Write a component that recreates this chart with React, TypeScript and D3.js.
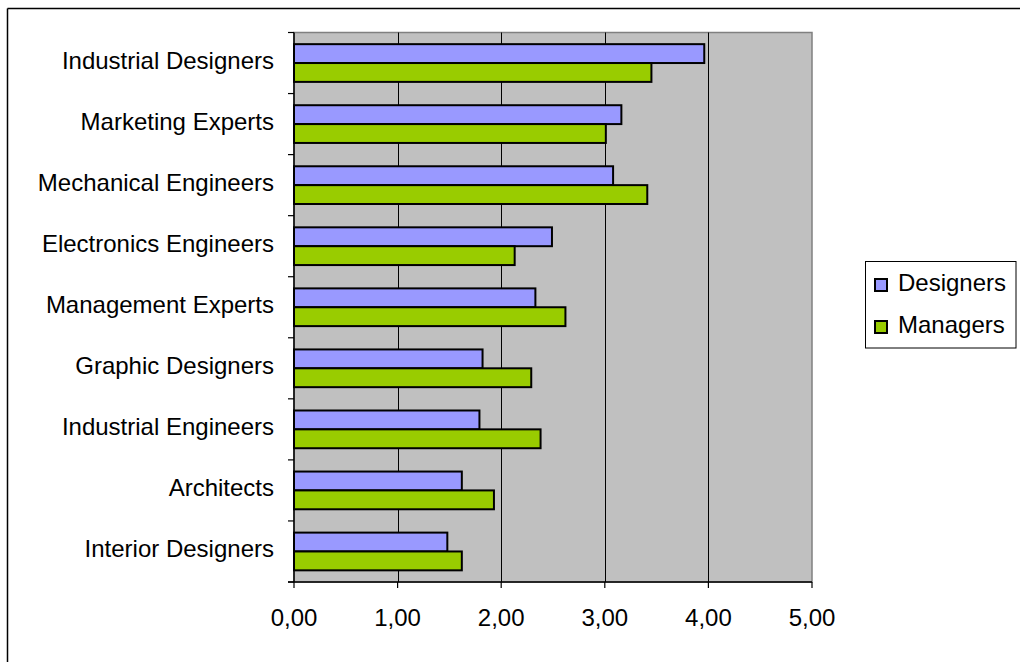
import React from "react";
import * as d3 from "d3";

// Mean ratings per profession, rated by designers and by managers
const categories = [
  "Industrial Designers",
  "Marketing Experts",
  "Mechanical Engineers",
  "Electronics Engineers",
  "Management Experts",
  "Graphic Designers",
  "Industrial Engineers",
  "Architects",
  "Interior Designers",
];
const designers = [3.96, 3.16, 3.08, 2.49, 2.33, 1.82, 1.79, 1.62, 1.48];
const managers = [3.45, 3.01, 3.41, 2.13, 2.62, 2.29, 2.38, 1.93, 1.62];
const seriesNames = ["Designers", "Managers"];
const seriesColors = ["#9999FF", "#99CC00"];
const xTicks = [0, 1, 2, 3, 4, 5];

const W = 1020;
const H = 662;
const plot = { left: 294, right: 812, top: 32.5, bottom: 582 };
const FONT = "'Liberation Sans', Arial, sans-serif";

export default function App() {
  const x = d3.scaleLinear().domain([0, 5]).range([plot.left, plot.right]);
  const y = d3
    .scaleBand<string>()
    .domain(categories)
    .range([plot.top, plot.bottom])
    .paddingInner(0.382)
    .paddingOuter(0.191);
  const inner = d3
    .scaleBand<string>()
    .domain(seriesNames)
    .range([0, y.bandwidth()]);
  const step = y.step();
  const fmt = (v: number) => v.toFixed(2).replace(".", ",");
  const series = [designers, managers];

  const boundaries = d3.range(categories.length + 1).map((i) => plot.top + i * step);

  return (
    <svg
      width={W}
      height={H}
      style={{ position: "absolute", left: 0, top: 0, background: "#fff" }}
      fontFamily={FONT}
    >
      {/* chart area frame */}
      <line x1={7.5} y1={8.5} x2={W + 2} y2={8.5} stroke="#000" strokeWidth={1.5} />
      <line x1={7.5} y1={8.5} x2={7.5} y2={H + 2} stroke="#000" strokeWidth={1.5} />

      {/* plot area */}
      <rect
        x={plot.left}
        y={plot.top}
        width={plot.right - plot.left}
        height={plot.bottom - plot.top}
        fill="#C0C0C0"
        stroke="#808080"
        strokeWidth={1.5}
      />

      {/* vertical gridlines */}
      {xTicks.slice(1, -1).map((t) => (
        <line
          key={`g${t}`}
          x1={Math.round(x(t)) + 0.5}
          x2={Math.round(x(t)) + 0.5}
          y1={plot.top}
          y2={plot.bottom}
          stroke="#000"
          strokeWidth={1}
        />
      ))}

      {/* bars */}
      {categories.map((c, i) => (
        <g key={c}>
          {series.map((vals, s) => (
            <rect
              key={seriesNames[s]}
              x={x(0)}
              y={(y(c) as number) + (inner(seriesNames[s]) as number)}
              width={x(vals[i]) - x(0)}
              height={inner.bandwidth()}
              fill={seriesColors[s]}
              stroke="#000"
              strokeWidth={2}
            />
          ))}
        </g>
      ))}

      {/* axes */}
      <line x1={plot.left} x2={plot.left} y1={plot.top} y2={plot.bottom} stroke="#000" strokeWidth={1.5} />
      <line x1={plot.left - 6} x2={plot.right} y1={plot.bottom} y2={plot.bottom} stroke="#000" strokeWidth={1.5} />
      {boundaries.map((b, i) => (
        <line key={`yt${i}`} x1={plot.left - 6} x2={plot.left} y1={b} y2={b} stroke="#000" strokeWidth={1.2} />
      ))}
      {xTicks.map((t) => (
        <line key={`xt${t}`} x1={x(t)} x2={x(t)} y1={plot.bottom} y2={plot.bottom + 6} stroke="#000" strokeWidth={1.2} />
      ))}

      {/* category labels */}
      {categories.map((c) => (
        <text
          key={`l${c}`}
          x={274}
          y={(y(c) as number) - y.step() * y.paddingInner() / 2 + step / 2 + 5.5}
          textAnchor="end"
          fontSize={24}
          fill="#000"
        >
          {c}
        </text>
      ))}

      {/* value labels */}
      {xTicks.map((t) => (
        <text key={`xl${t}`} x={x(t)} y={626} textAnchor="middle" fontSize={24} fill="#000">
          {fmt(t)}
        </text>
      ))}

      {/* legend */}
      <rect x={865.5} y={261.5} width={150.5} height={86.5} fill="#fff" stroke="#000" strokeWidth={1} />
      {seriesNames.map((n, s) => (
        <g key={`lg${n}`}>
          <rect x={875} y={279 + s * 42} width={12} height={12} fill={seriesColors[s]} stroke="#000" strokeWidth={2} />
          <text x={898} y={290.5 + s * 42.5} fontSize={24} fill="#000">
            {n}
          </text>
        </g>
      ))}
    </svg>
  );
}
